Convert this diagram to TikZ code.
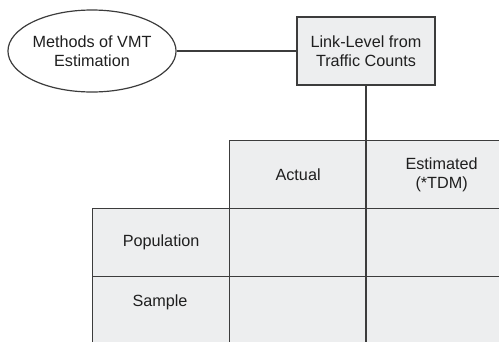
\documentclass[tikz,border=0pt]{standalone}
\usepackage{fontspec}
\setmainfont{Liberation Sans}
\usetikzlibrary{shapes.geometric}
\definecolor{ink}{HTML}{3C3C3C}
\definecolor{cellgray}{HTML}{EDEEEF}
\begin{document}
\begin{tikzpicture}[x=1pt,y=-1pt,
  every node/.style={font=\fontsize{16.2}{18.5}\selectfont, text=black!88, align=center, inner sep=0pt},
  rim/.style={draw=ink, line width=1.2pt},
  oval/.style={rim, ellipse, fill=white, minimum width=166pt, minimum height=82pt},
  headbox/.style={rim, rectangle, fill=cellgray, minimum width=138pt, minimum height=68pt},
  cell/.style={rim, rectangle, fill=cellgray, anchor=north west},
  link/.style={draw=ink, line width=1.2pt}]
\useasboundingbox (0,0) rectangle (499,341);
\clip (0,0) rectangle (499,341);

% title shapes
\node[oval] (methods) at (92,51) {Methods of VMT\\Estimation};
\node[headbox] (link) at (366,51) {Link-Level from\\Traffic Counts};

% table: header row
\node[cell, minimum width=137pt, minimum height=68pt] (actual) at (229,140) {Actual};
\node[cell, minimum width=150pt, minimum height=68pt] (estim) at (366,140) {Estimated\\(*TDM)};
% table: population row
\node[cell, minimum width=137pt, minimum height=68pt] (pop) at (92,208) {Population};
\node[cell, minimum width=137pt, minimum height=68pt] (popa) at (229,208) {};
\node[cell, minimum width=150pt, minimum height=68pt] (pope) at (366,208) {};
% table: sample row
\node[cell, minimum width=137pt, minimum height=80pt] (samp) at (92,276) {};
\node[cell, minimum width=137pt, minimum height=80pt] (sampa) at (229,276) {};
\node[cell, minimum width=150pt, minimum height=80pt] (sampe) at (366,276) {};
\node (samplabel) at (160,302) {Sample};

% connectors
\coordinate (bottom) at (366,350);
\draw[link] (methods.east) -- (link.west);
\draw[link] (link.south) -- (bottom);
\end{tikzpicture}
\end{document}
